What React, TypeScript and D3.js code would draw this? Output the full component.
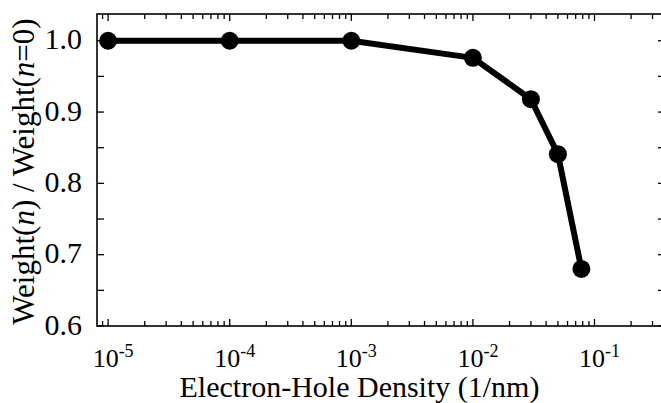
import React from "react";
import * as d3 from "d3";

const densities = [1e-5, 1e-4, 1e-3, 1e-2, 3e-2, 5e-2, 7.8e-2];
const weights = [1.0, 1.0, 1.0, 0.976, 0.918, 0.841, 0.68];
const xMajor = [-5, -4, -3, -2, -1];
const yMajor = [0.6, 0.7, 0.8, 0.9, 1.0];
const yMinor = [0.65, 0.75, 0.85, 0.95];

const W = 661;
const H = 403;
const left = 97;
const right = 665;
const top = 14;
const bottom = 326;

const App = () => {
  const x = d3.scaleLog().domain([8.1e-6, 0.38]).range([left, right]);
  const y = d3.scaleLinear().domain([0.6, 1.0375]).range([bottom, top]);

  const [x0, x1] = x.domain();
  const xMinor: number[] = [];
  for (let e = -6; e <= 0; e++) {
    for (let k = 2; k <= 9; k++) {
      const v = k * Math.pow(10, e);
      if (v > x0 && v < x1) xMinor.push(v);
    }
  }
  const xMaj = xMajor.map((e) => Math.pow(10, e));

  const line = d3
    .line<number>()
    .x((d, i) => x(densities[i]))
    .y((d) => y(d));

  const font = '"Liberation Serif", "Times New Roman", serif';

  return (
    <svg width={W} height={H} style={{ position: "absolute", left: 0, top: 0, fontFamily: font }}>
      <rect width={W} height={H} fill="#fff" />
      {/* frame */}
      <rect x={left} y={top} width={right - left} height={bottom - top} stroke="#000" strokeWidth={1.6} fill="none" />
      {/* ticks */}
      <g stroke="#000" strokeWidth={1.3}>
        {xMaj.map((v) => (
          <g key={"M" + v}>
            <line x1={x(v)} x2={x(v)} y1={bottom} y2={bottom - 7} />
            <line x1={x(v)} x2={x(v)} y1={top} y2={top + 7} />
          </g>
        ))}
        {xMinor.map((v) => (
          <g key={"m" + v}>
            <line x1={x(v)} x2={x(v)} y1={bottom} y2={bottom - 5} />
            <line x1={x(v)} x2={x(v)} y1={top} y2={top + 5} />
          </g>
        ))}
        {yMajor.concat(yMinor).map((v) => (
          <g key={"y" + v}>
            <line x1={left} x2={left + 7} y1={y(v)} y2={y(v)} />
            <line x1={right} x2={right - 7} y1={y(v)} y2={y(v)} />
          </g>
        ))}
      </g>
      {/* tick labels */}
      <g fill="#000">
        {yMajor.map((v) => (
          <text key={v} x={82} y={y(v) + 8.5} textAnchor="end" fontSize={30}>
            {v.toFixed(1)}
          </text>
        ))}
        {xMajor.map((e) => (
          <text key={e} x={x(Math.pow(10, e)) + 5} y={366.5} textAnchor="middle" fontSize={26}>
            10
            <tspan fontSize={18} dy={-10}>
              {e}
            </tspan>
          </text>
        ))}
      </g>
      {/* axis titles */}
      <text x={359.5} y={397} textAnchor="middle" fontSize={30} fill="#000">
        Electron-Hole Density (1/nm)
      </text>
      <text transform={`translate(34,171.5) rotate(-90)`} textAnchor="middle" fontSize={31} fill="#000">
        Weight(<tspan fontStyle="italic">n</tspan>) / Weight(<tspan fontStyle="italic">n</tspan>=0)
      </text>
      {/* data */}
      <path d={line(weights) || ""} fill="none" stroke="#000" strokeWidth={6} strokeLinejoin="round" />
      {weights.map((w, i) => (
        <circle key={i} cx={x(densities[i])} cy={y(w)} r={9} fill="#000" />
      ))}
    </svg>
  );
};

export default App;
